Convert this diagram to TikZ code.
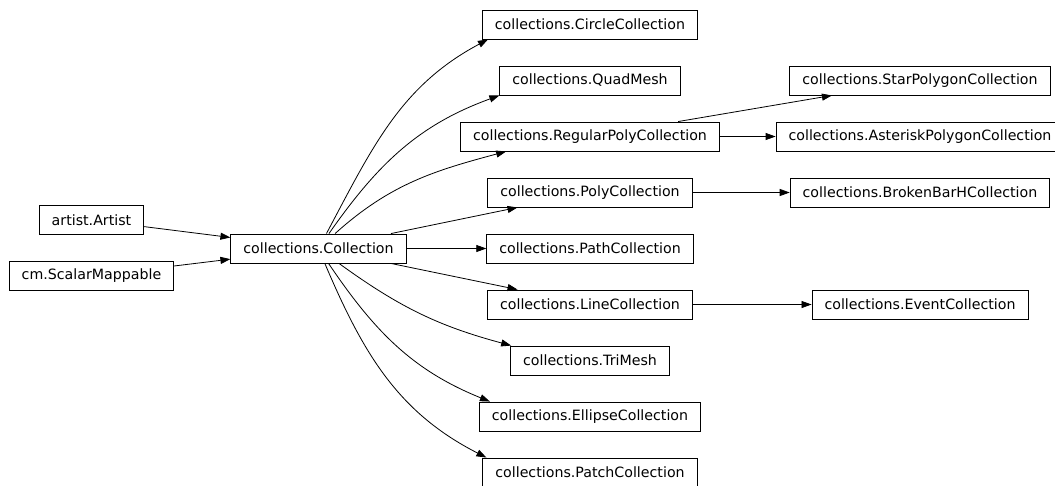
\documentclass[tikz,border=0pt]{standalone}
\usepackage{fontspec}
\setmainfont{DejaVu Sans}
\usetikzlibrary{arrows.meta}

\begin{document}
\begin{tikzpicture}[
  x=1pt, y=-1pt,
  cls/.style={rectangle, draw=black, line width=0.9pt,
              minimum height=29pt, inner xsep=12.5pt, inner ysep=2pt,
              font=\fontsize{14.2}{17}\selectfont, text centered},
  arrow/.style={-{Triangle[length=10pt,width=7pt]}, line width=0.8pt, black}
]
\useasboundingbox (0,0) rectangle (1055,485);

\node[cls] (art)  at (91.5,220)   {artist.Artist};
\node[cls] (sm)   at (91.5,276)   {cm.ScalarMappable};
\node[cls] (coll) at (318.5,248.5) {collections.Collection};

\node[cls] (circ)  at (590,24.5)  {collections.CircleCollection};
\node[cls] (quad)  at (590,80.5)  {collections.QuadMesh};
\node[cls] (reg)   at (590,136.5) {collections.RegularPolyCollection};
\node[cls] (poly)  at (590,192.5) {collections.PolyCollection};
\node[cls] (path)  at (590,248.5) {collections.PathCollection};
\node[cls] (line)  at (590,304.5) {collections.LineCollection};
\node[cls] (tri)   at (590,360.5) {collections.TriMesh};
\node[cls] (ell)   at (590,416.5) {collections.EllipseCollection};
\node[cls] (patch) at (590,472.5) {collections.PatchCollection};

\node[cls] (star)  at (920,80.5)  {collections.StarPolygonCollection};
\node[cls] (ast)   at (920,136.5) {collections.AsteriskPolygonCollection};
\node[cls] (bbh)   at (920,192.5) {collections.BrokenBarHCollection};
\node[cls] (event) at (920,304.5) {collections.EventCollection};

\draw[arrow] (art) -- (coll);
\draw[arrow] (sm) -- (coll);

\draw[arrow] (coll) to[out=62,in=208] ([xshift=6pt]circ.south west);
\draw[arrow] (coll) to[out=55,in=200] ([xshift=0pt]quad.south west);
\draw[arrow] (coll) to[out=42,in=195] ([xshift=46pt]reg.south west);
\draw[arrow] (coll) -- (poly);
\draw[arrow] (coll) -- (path);
\draw[arrow] (coll) -- (line);
\draw[arrow] (coll) to[out=-36,in=165] ([xshift=1pt]tri.north west);
\draw[arrow] (coll) to[out=-56,in=158] ([xshift=11pt]ell.north west);
\draw[arrow] (coll) to[out=-67,in=153] ([xshift=4pt]patch.north west);

\draw[arrow] (reg) -- (star);
\draw[arrow] (reg) -- (ast);
\draw[arrow] (poly) -- (bbh);
\draw[arrow] (line) -- (event);
\end{tikzpicture}
\end{document}
